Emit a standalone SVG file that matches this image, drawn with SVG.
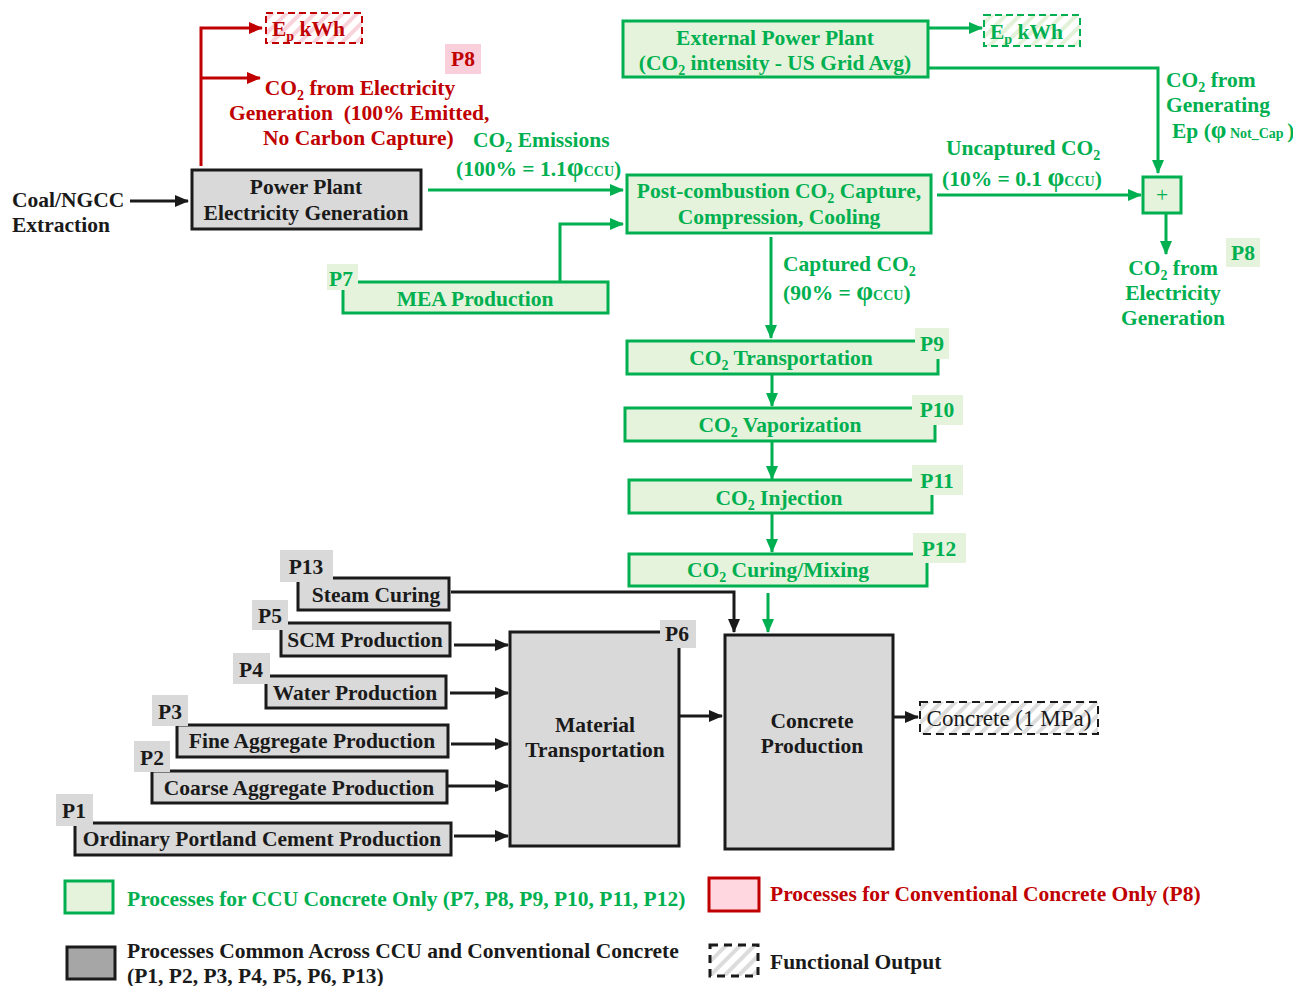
<svg xmlns="http://www.w3.org/2000/svg" width="1293" height="986" viewBox="0 0 1293 986">
<defs>
<style>
text{font-family:"Liberation Serif","Times New Roman",serif;font-weight:bold;font-size:21.5px}
.k{fill:#1a1a1a}
.g{fill:#00b050}
.r{fill:#c00000}
.m{text-anchor:middle}
.gb{fill:#e5f3dc;stroke:#00b050;stroke-width:3}
.kb{fill:#d9d9d9;stroke:#1a1a1a;stroke-width:3}
.gl{fill:#e5f3dc}
.kl{fill:#d9d9d9}
.rl{fill:#f9cfdb}
.cg{fill:none;stroke:#00b050;stroke-width:3}
.ck{fill:none;stroke:#1a1a1a;stroke-width:3}
.cr{fill:none;stroke:#c00000;stroke-width:3}
</style>
<marker id="ag" markerWidth="14" markerHeight="12" refX="13" refY="6" orient="auto" markerUnits="userSpaceOnUse"><path d="M0,0 L14,6 L0,12 z" fill="#00b050"/></marker>
<marker id="ak" markerWidth="14" markerHeight="12" refX="13" refY="6" orient="auto" markerUnits="userSpaceOnUse"><path d="M0,0 L14,6 L0,12 z" fill="#1a1a1a"/></marker>
<marker id="ar" markerWidth="14" markerHeight="12" refX="13" refY="6" orient="auto" markerUnits="userSpaceOnUse"><path d="M0,0 L14,6 L0,12 z" fill="#c00000"/></marker>
<pattern id="hr" width="10" height="10" patternUnits="userSpaceOnUse" patternTransform="rotate(45)"><rect width="10" height="10" fill="#fff"/><rect width="4" height="10" fill="#f9d3dc"/></pattern>
<pattern id="hg" width="10" height="10" patternUnits="userSpaceOnUse" patternTransform="rotate(45)"><rect width="10" height="10" fill="#fff"/><rect width="4" height="10" fill="#e2f1d8"/></pattern>
<pattern id="hk" width="10" height="10" patternUnits="userSpaceOnUse" patternTransform="rotate(45)"><rect width="10" height="10" fill="#fff"/><rect width="4" height="10" fill="#dcdcdc"/></pattern>
</defs>

<g id="connectors">
<path class="cr" d="M201,166 V28 H262" marker-end="url(#ar)"/>
<path class="cr" d="M201,78 H260" marker-end="url(#ar)"/>
<path class="ck" d="M130,201 H188" marker-end="url(#ak)"/>
<path class="cg" d="M428,190 H623" marker-end="url(#ag)"/>
<path class="cg" d="M560,282 V224 H623" marker-end="url(#ag)"/>
<path class="cg" d="M929,28 H982" marker-end="url(#ag)"/>
<path class="cg" d="M929,68 H1158 V173" marker-end="url(#ag)"/>
<path class="cg" d="M937,195 H1141" marker-end="url(#ag)"/>
<path class="cg" d="M1166,214 V254" marker-end="url(#ag)"/>
<path class="cg" d="M771,237 V338" marker-end="url(#ag)"/>
<path class="cg" d="M772,375 V406" marker-end="url(#ag)"/>
<path class="cg" d="M772,442 V479" marker-end="url(#ag)"/>
<path class="cg" d="M772,514 V552" marker-end="url(#ag)"/>
<path class="cg" d="M768,593 V632" marker-end="url(#ag)"/>
<path class="ck" d="M451,592 H734 V632" marker-end="url(#ak)"/>
<path class="ck" d="M454,645 H508" marker-end="url(#ak)"/>
<path class="ck" d="M450,693 H508" marker-end="url(#ak)"/>
<path class="ck" d="M451,744 H508" marker-end="url(#ak)"/>
<path class="ck" d="M448,786 H508" marker-end="url(#ak)"/>
<path class="ck" d="M454,836 H508" marker-end="url(#ak)"/>
<path class="ck" d="M679,716 H722" marker-end="url(#ak)"/>
<path class="ck" d="M894,717 H918" marker-end="url(#ak)"/>
</g>

<g id="labels">
<text class="r m" x="360" y="95">CO<tspan font-size="14" dy="5">2</tspan><tspan dy="-5"> from Electricity</tspan></text>
<text class="r" x="229" y="120" xml:space="preserve">Generation  (100% Emitted,</text>
<text class="r" x="263" y="145">No Carbon Capture)</text>
<text class="g" x="473" y="147">CO<tspan font-size="14" dy="5">2</tspan><tspan dy="-5"> Emissions</tspan></text>
<text class="g" x="456" y="176">(100% = 1.1<tspan font-size="27">φ</tspan><tspan font-size="14">CCU</tspan>)</text>
<text class="g" x="946" y="155">Uncaptured CO<tspan font-size="14" dy="5">2</tspan></text>
<text class="g" x="942" y="186">(10% = 0.1 <tspan font-size="27">φ</tspan><tspan font-size="14">CCU</tspan>)</text>
<text class="g" x="1166" y="87">CO<tspan font-size="14" dy="5">2</tspan><tspan dy="-5"> from</tspan></text>
<text class="g" x="1166" y="112">Generating</text>
<text class="g" x="1172" y="138">Ep (<tspan font-size="25">φ</tspan><tspan font-size="14"> Not_Cap </tspan>)</text>
<text class="g" x="783" y="271">Captured CO<tspan font-size="14" dy="5">2</tspan></text>
<text class="g" x="783" y="300">(90% = <tspan font-size="27">φ</tspan><tspan font-size="14">CCU</tspan>)</text>
<text class="g m" x="1173" y="275">CO<tspan font-size="14" dy="5">2</tspan><tspan dy="-5"> from</tspan></text>
<text class="g m" x="1173" y="300">Electricity</text>
<text class="g m" x="1173" y="325">Generation</text>
<text class="k" x="12" y="207">Coal/NGCC</text>
<text class="k" x="12" y="232">Extraction</text>
</g>

<g id="ep-red">
<rect x="266" y="13" width="96" height="30" fill="url(#hr)" stroke="#c00000" stroke-width="2" stroke-dasharray="7,4"/>
<text class="r" x="272" y="36">E<tspan font-size="14" dy="5">p</tspan><tspan dy="-5"> kWh</tspan></text>
</g>
<g id="p8-red">
<rect class="rl" x="445" y="44" width="36" height="30"/>
<text class="r m" x="463" y="66">P8</text>
</g>

<g id="power-plant">
<rect class="kb" x="192" y="170" width="229" height="59"/>
<text class="k m" x="306" y="194">Power Plant</text>
<text class="k m" x="306" y="220">Electricity Generation</text>
</g>

<g id="external-power">
<rect class="gb" x="623" y="21" width="305" height="56"/>
<text class="g m" x="775" y="45">External Power Plant</text>
<text class="g m" x="775" y="70">(CO<tspan font-size="14" dy="5">2</tspan><tspan dy="-5"> intensity - US Grid Avg)</tspan></text>
</g>
<g id="ep-green">
<rect x="984" y="15" width="96" height="31" fill="url(#hg)" stroke="#00b050" stroke-width="2" stroke-dasharray="7,4"/>
<text class="g" x="990" y="39">E<tspan font-size="14" dy="5">p</tspan><tspan dy="-5"> kWh</tspan></text>
</g>

<g id="post-combustion">
<rect class="gb" x="627" y="175" width="304" height="58"/>
<text class="g m" x="779" y="198">Post-combustion CO<tspan font-size="14" dy="5">2</tspan><tspan dy="-5"> Capture,</tspan></text>
<text class="g m" x="779" y="224">Compression, Cooling</text>
</g>

<g id="sum">
<rect class="gb" x="1143" y="177" width="38" height="36"/>
<text class="g m" x="1162" y="202" style="font-weight:normal">+</text>
</g>
<g id="p8-green">
<rect class="gl" x="1226" y="238" width="34" height="29"/>
<text class="g m" x="1243" y="260">P8</text>
</g>

<g id="mea">
<rect class="gb" x="343" y="282" width="265" height="31"/>
<rect class="gl" x="327" y="264" width="31" height="26"/>
<text class="g m" x="341" y="286">P7</text>
<text class="g m" x="475" y="306">MEA Production</text>
</g>

<g id="p9">
<rect class="gb" x="627" y="341" width="311" height="33"/>
<rect class="gl" x="915" y="328" width="34" height="31"/>
<text class="g m" x="932" y="351">P9</text>
<text class="g m" x="781" y="365">CO<tspan font-size="14" dy="5">2</tspan><tspan dy="-5"> Transportation</tspan></text>
</g>
<g id="p10">
<rect class="gb" x="625" y="408" width="310" height="33"/>
<rect class="gl" x="912" y="395" width="51" height="30"/>
<text class="g m" x="937" y="417">P10</text>
<text class="g m" x="780" y="432">CO<tspan font-size="14" dy="5">2</tspan><tspan dy="-5"> Vaporization</tspan></text>
</g>
<g id="p11">
<rect class="gb" x="629" y="480" width="303" height="33"/>
<rect class="gl" x="912" y="465" width="51" height="30"/>
<text class="g m" x="937" y="488">P11</text>
<text class="g m" x="779" y="505">CO<tspan font-size="14" dy="5">2</tspan><tspan dy="-5"> Injection</tspan></text>
</g>
<g id="p12">
<rect class="gb" x="629" y="554" width="298" height="32"/>
<rect class="gl" x="913" y="533" width="53" height="30"/>
<text class="g m" x="939" y="556">P12</text>
<text class="g m" x="778" y="577">CO<tspan font-size="14" dy="5">2</tspan><tspan dy="-5"> Curing/Mixing</tspan></text>
</g>

<g id="p13">
<rect class="kb" x="298" y="578" width="151" height="32"/>
<rect class="kl" x="280" y="550" width="53" height="32"/>
<text class="k m" x="306" y="574">P13</text>
<text class="k m" x="376" y="602">Steam Curing</text>
</g>
<g id="p5">
<rect class="kb" x="281" y="623" width="169" height="33"/>
<rect class="kl" x="252" y="600" width="36" height="30"/>
<text class="k m" x="270" y="623">P5</text>
<text class="k m" x="365" y="647">SCM Production</text>
</g>
<g id="p4">
<rect class="kb" x="266" y="676" width="180" height="32"/>
<rect class="kl" x="233" y="653" width="37" height="31"/>
<text class="k m" x="251" y="677">P4</text>
<text class="k m" x="355" y="700">Water Production</text>
</g>
<g id="p3">
<rect class="kb" x="177" y="725" width="271" height="32"/>
<rect class="kl" x="152" y="695" width="36" height="31"/>
<text class="k m" x="170" y="719">P3</text>
<text class="k m" x="312" y="748">Fine Aggregate Production</text>
</g>
<g id="p2">
<rect class="kb" x="152" y="771" width="295" height="32"/>
<rect class="kl" x="134" y="741" width="36" height="31"/>
<text class="k m" x="152" y="765">P2</text>
<text class="k m" x="299" y="795">Coarse Aggregate Production</text>
</g>
<g id="p1">
<rect class="kb" x="75" y="823" width="376" height="32"/>
<rect class="kl" x="56" y="794" width="37" height="32"/>
<text class="k m" x="74" y="818">P1</text>
<text class="k m" x="262" y="846">Ordinary Portland Cement Production</text>
</g>

<g id="material-transport">
<rect class="kb" x="510" y="632" width="169" height="214"/>
<rect class="kl" x="660" y="620" width="36" height="28"/>
<text class="k m" x="677" y="641">P6</text>
<text class="k m" x="595" y="732">Material</text>
<text class="k m" x="595" y="757">Transportation</text>
</g>

<g id="concrete-production">
<rect class="kb" x="725" y="635" width="168" height="214"/>
<text class="k m" x="812" y="728">Concrete</text>
<text class="k m" x="812" y="753">Production</text>
</g>

<g id="concrete-output">
<rect x="920" y="702" width="178" height="32" fill="url(#hk)" stroke="#1a1a1a" stroke-width="2" stroke-dasharray="8,5"/>
<text class="k m" x="1009" y="726" style="font-weight:normal;font-size:23px">Concrete (1 MPa)</text>
</g>

<g id="legend">
<rect x="65" y="881" width="48" height="32" fill="#e5f3dc" stroke="#00b050" stroke-width="3"/>
<text class="g" x="127" y="906">Processes for CCU Concrete Only (P7, P8, P9, P10, P11, P12)</text>
<rect x="709" y="878" width="50" height="33" fill="#ffd7e0" stroke="#c00000" stroke-width="3"/>
<text class="r" x="770" y="901">Processes for Conventional Concrete Only (P8)</text>
<rect x="67" y="947" width="48" height="32" fill="#a6a6a6" stroke="#1a1a1a" stroke-width="3"/>
<text class="k" x="127" y="958">Processes Common Across CCU and Conventional Concrete</text>
<text class="k" x="127" y="983">(P1, P2, P3, P4, P5, P6, P13)</text>
<rect x="710" y="945" width="48" height="31" fill="url(#hk)" stroke="#1a1a1a" stroke-width="3" stroke-dasharray="8,6"/>
<text class="k" x="770" y="969">Functional Output</text>
</g>
</svg>
